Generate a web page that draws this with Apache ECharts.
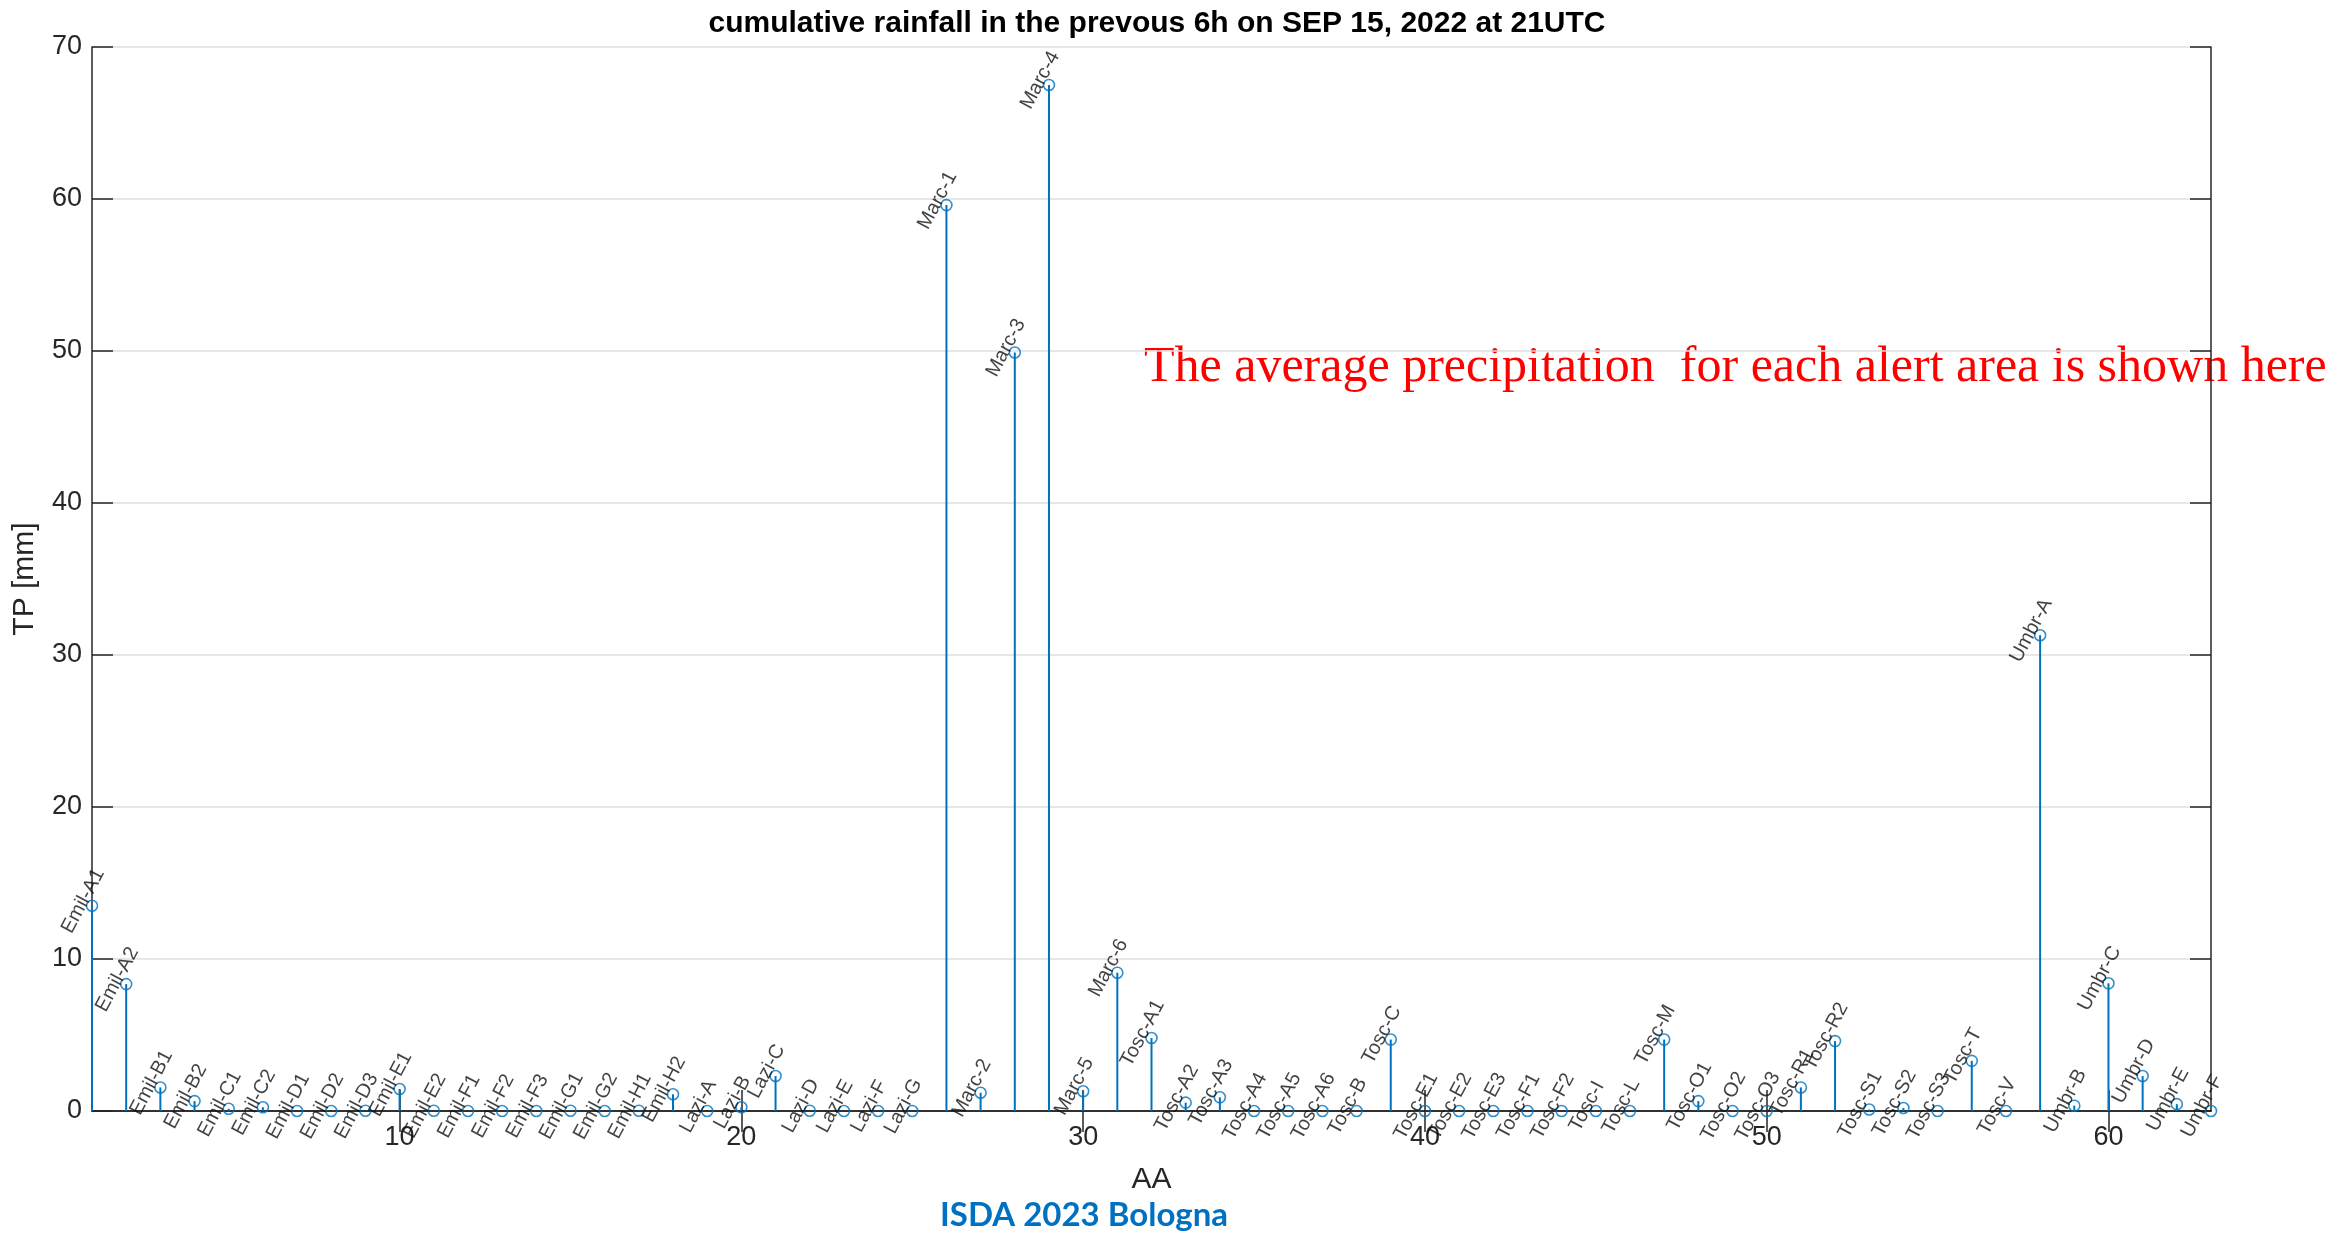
<!DOCTYPE html>
<html>
<head>
<meta charset="utf-8">
<title>TP per alert area</title>
<script src="https://cdn.jsdelivr.net/npm/echarts@6.0.0/dist/echarts.min.js"></script>
<style>
    html, body { margin: 0; padding: 0; background: #fff; }
    #main { width: 2336px; height: 1239px; }
</style>
</head>
<body>
<div id="main"></div>
<script>
// alert areas, in plot order (x = 1..63)
var areas = ['Emil-A1', 'Emil-A2', 'Emil-B1', 'Emil-B2', 'Emil-C1', 'Emil-C2', 'Emil-D1', 'Emil-D2', 'Emil-D3',
    'Emil-E1', 'Emil-E2', 'Emil-F1', 'Emil-F2', 'Emil-F3', 'Emil-G1', 'Emil-G2', 'Emil-H1', 'Emil-H2',
    'Lazi-A', 'Lazi-B', 'Lazi-C', 'Lazi-D', 'Lazi-E', 'Lazi-F', 'Lazi-G',
    'Marc-1', 'Marc-2', 'Marc-3', 'Marc-4', 'Marc-5', 'Marc-6',
    'Tosc-A1', 'Tosc-A2', 'Tosc-A3', 'Tosc-A4', 'Tosc-A5', 'Tosc-A6', 'Tosc-B', 'Tosc-C', 'Tosc-E1', 'Tosc-E2',
    'Tosc-E3', 'Tosc-F1', 'Tosc-F2', 'Tosc-I', 'Tosc-L', 'Tosc-M', 'Tosc-O1', 'Tosc-O2', 'Tosc-O3', 'Tosc-R1',
    'Tosc-R2', 'Tosc-S1', 'Tosc-S2', 'Tosc-S3', 'Tosc-T', 'Tosc-V',
    'Umbr-A', 'Umbr-B', 'Umbr-C', 'Umbr-D', 'Umbr-E', 'Umbr-F'];

// average precipitation [mm] for each area
var emilTp = [13.5, 8.35, 1.55, 0.65, 0.15, 0.25, 0, 0, 0.02, 1.45, 0.02, 0, 0, 0, 0.02, 0, 0.02, 1.1];
var laziTp = [0, 0.25, 2.3, 0.02, 0, 0, 0];
var marcTp = [59.6, 1.2, 49.9, 67.5, 1.3, 9.1];
var toscTp = [4.8, 0.55, 0.9, 0, 0, 0, 0, 4.7, 0, 0, 0, 0, 0, 0, 0, 4.7, 0.65, 0, 0, 1.55, 4.6, 0.1, 0.2, 0, 3.3, 0];
var umbrTp = [31.3, 0.35, 8.4, 2.3, 0.45, 0];

var xTicks = [10, 20, 30, 40, 50, 60];

var titleText = 'cumulative rainfall in the prevous 6h on SEP 15, 2022 at 21UTC';
var noteText = 'The average precipitation  for each alert area is shown here';
var footText = 'ISDA 2023 Bologna';

var tp = emilTp.concat(laziTp, marcTp, toscTp, umbrTp);

var getPoints = function () {
    var pts = [];
    for (var i = 0; i < areas.length; i++) {
        pts.push({ name: areas[i], value: [i + 1, tp[i]] });
    }
    return pts;
};

var axisColor = '#262626';
var font = '"Liberation Sans", Arial, sans-serif';

var chartShow = function () {
    var myChart = echarts.init(document.getElementById('main'));
    var points = getPoints();
    var option = {
        animation: false,
        backgroundColor: '#fff',
        title: {
            text: titleText,
            left: 1152,          // centred over the plot box, not the canvas
            textAlign: 'center',
            top: 4,
            textStyle: { fontFamily: font, fontSize: 30, fontWeight: 'bold', color: '#000' }
        },
        grid: { left: 92, right: 125, top: 47, bottom: 128 },
        xAxis: [{
            type: 'value',
            min: 1,
            max: 63,
            name: 'AA',
            nameLocation: 'middle',
            nameGap: 54,
            nameTextStyle: { fontFamily: font, fontSize: 30, color: axisColor },
            axisLine: { onZero: false, lineStyle: { color: axisColor, width: 1.5 } },
            axisTick: { inside: true, length: 21, customValues: xTicks, lineStyle: { color: axisColor, width: 1.5 } },
            axisLabel: { customValues: xTicks, margin: 13, fontFamily: font, fontSize: 27, color: axisColor },
            splitLine: { show: false }
        }, {
            type: 'value',
            position: 'top',
            min: 1,
            max: 63,
            axisLine: { show: true, lineStyle: { color: axisColor, width: 1.5 } },
            axisTick: { inside: true, length: 21, customValues: xTicks, lineStyle: { color: axisColor, width: 1.5 } },
            axisLabel: { show: false },
            splitLine: { show: false }
        }],
        yAxis: [{
            type: 'value',
            min: 0,
            max: 70,
            interval: 10,
            name: 'TP [mm]',
            nameLocation: 'middle',
            nameGap: 52,
            nameTextStyle: { fontFamily: font, fontSize: 30, color: axisColor },
            axisLine: { show: true, lineStyle: { color: axisColor, width: 1.5 } },
            axisTick: { show: true, inside: true, length: 21, lineStyle: { color: axisColor, width: 1.5 } },
            axisLabel: { margin: 10, fontFamily: font, fontSize: 27, color: axisColor },
            splitLine: { show: true, lineStyle: { color: '#dfdfdf', width: 1.5 } }
        }, {
            type: 'value',
            position: 'right',
            min: 0,
            max: 70,
            interval: 10,
            axisLine: { show: true, lineStyle: { color: axisColor, width: 1.5 } },
            axisTick: { show: true, inside: true, length: 21, lineStyle: { color: axisColor, width: 1.5 } },
            axisLabel: { show: false },
            splitLine: { show: false }
        }],
        series: [{
            // stems
            type: 'bar',
            xAxisIndex: 0,
            yAxisIndex: 0,
            barWidth: 2,
            silent: true,
            itemStyle: { color: '#0072BD' },
            data: points
        }, {
            // open circles + rotated area names
            type: 'scatter',
            xAxisIndex: 0,
            yAxisIndex: 0,
            symbol: 'circle',
            symbolSize: 11,
            itemStyle: { color: 'rgba(0,0,0,0)', borderColor: '#0072BD', borderWidth: 1.6 },
            label: {
                show: true,
                position: 'inside',
                rotate: 62,
                align: 'center',
                verticalAlign: 'bottom',
                formatter: function (p) { return p.name; },
                fontFamily: font,
                fontSize: 20,
                color: '#111'
            },
            data: points,
            z: 3
        }],
        graphic: [{
            type: 'text',
            left: 1144,
            top: 343,
            style: { text: noteText, fill: '#ff0000', font: '50px "Liberation Serif", serif' }
        }, {
            type: 'text',
            left: 940,
            top: 1199,
            style: { text: footText, fill: '#0070C0', font: 'bold 33px Lato, sans-serif' }
        }]
    };
    myChart.setOption(option);
    window.onresize = myChart.resize;
};

chartShow();
</script>
</body>
</html>
